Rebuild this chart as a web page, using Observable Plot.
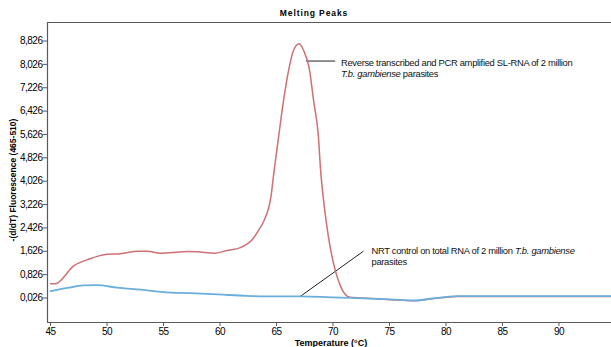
<!DOCTYPE html>
<html><head><meta charset="utf-8">
<script src="https://cdn.jsdelivr.net/npm/d3@7"></script>
<script src="https://cdn.jsdelivr.net/npm/@observablehq/plot@0.6"></script>
<style>body{margin:0;background:#fff;} svg{display:block;}</style>
</head><body><div id="chart"></div>
<script>
const title = "Melting Peaks";
const xLabel = "Temperature (°C)";
const yLabel = "-(d/dT) Fluorescence (465-510)";
const xTicks = [45, 50, 55, 60, 65, 70, 75, 80, 85, 90];
const yTicks = [0.026, 0.826, 1.626, 2.426, 3.226, 4.026, 4.826, 5.626, 6.426, 7.226, 8.026, 8.826];

// Red: reverse transcribed + PCR amplified SL-RNA
const pcrTemp  = [45.0, 45.4, 47.1, 48.5, 50.0, 51.2, 52.7, 53.6, 54.7, 55.9, 57.1, 58.0, 59.5, 60.6, 61.8, 62.8, 63.5, 63.9, 64.5, 64.8, 65.2, 65.6, 66.1, 66.5, 67.0, 67.4, 67.9, 68.3, 68.7, 68.9, 69.2, 69.6, 70.2, 70.7, 71.5, 72.5, 75.1, 77.2, 78.6, 81.0, 94.6];
const pcrValue = [0.51, 0.51, 1.14, 1.37, 1.52, 1.54, 1.63, 1.63, 1.56, 1.58, 1.62, 1.61, 1.56, 1.65, 1.75, 2.00, 2.40, 2.68, 3.48, 4.42, 5.59, 6.73, 7.88, 8.50, 8.73, 8.50, 7.88, 6.73, 5.59, 4.42, 3.25, 2.11, 0.97, 0.40, 0.05, 0.03, -0.03, -0.07, -0.01, 0.08, 0.08];

// Blue: NRT control
const nrtTemp  = [45.0, 46.5, 47.9, 49.1, 50.9, 53.0, 55.3, 57.4, 59.8, 62.4, 64.8, 67.1, 69.8, 71.5, 75.1, 77.2, 78.6, 81.0, 84.5, 94.6];
const nrtValue = [0.26, 0.37, 0.46, 0.47, 0.38, 0.31, 0.22, 0.19, 0.15, 0.10, 0.08, 0.08, 0.05, 0.03, -0.02, -0.06, 0.00, 0.09, 0.09, 0.09];

// annotation anchors (temperature, value)
const pcrLeader = [{x1: 67.6, y1: 8.14, x2: 70.2, y2: 8.14}];
const nrtLeader = [{x1: 67.1, y1: 0.08, x2: 72.7, y2: 1.63}];
const pcrNote = {t: 70.75, v: 8.09, lines: [[["Reverse transcribed and PCR amplified SL-RNA of 2 million", false]], [["T.b. gambiense", true], [" parasites", false]]]};
const nrtNote = {t: 73.45, v: 1.65, lines: [[["NRT control on total RNA of 2 million ", false], ["T.b. gambiense", true]], [["parasites", false]]]};

const xDomain = [44.73, 94.65];
const yDomain = [-0.813, 9.46];

const pcr = pcrTemp.map((t, i) => ({t, v: pcrValue[i]}));
const nrt = nrtTemp.map((t, i) => ({t, v: nrtValue[i]}));

const axisColor = "#5a5a5a";
const tickFont = "'Liberation Sans Narrow', 'Arial Narrow', 'Liberation Sans', Arial, sans-serif";
const fmtY = d => d.toFixed(3).replace(".", ",");

const plot = Plot.plot({
  width: 611, height: 347,
  marginLeft: 47, marginRight: 0, marginTop: 22, marginBottom: 25,
  style: {fontFamily: tickFont, fontSize: "10px", background: "#fff", color: "#000"},
  x: {domain: xDomain, label: null},
  y: {domain: yDomain, label: null},
  marks: [
    Plot.ruleX([xDomain[0]], {stroke: axisColor, strokeWidth: 1.2}),
    Plot.ruleY([yDomain[0]], {stroke: axisColor, strokeWidth: 1.2}),
    Plot.ruleY([yDomain[1]], {stroke: axisColor, strokeWidth: 1.2}),
    Plot.axisX({ticks: xTicks, tickSize: 4, tickPadding: 1, stroke: axisColor, tickFormat: d => String(d), label: null}),
    Plot.axisY({ticks: yTicks, tickSize: 4, tickPadding: 1, stroke: axisColor, tickFormat: fmtY, label: null}),
    Plot.link(pcrLeader, {x1: "x1", y1: "y1", x2: "x2", y2: "y2", stroke: "#222", strokeWidth: 1}),
    Plot.link(nrtLeader, {x1: "x1", y1: "y1", x2: "x2", y2: "y2", stroke: "#222", strokeWidth: 1}),
    Plot.line(pcr, {x: "t", y: "v", stroke: "#cf7072", strokeWidth: 1.5, curve: "monotone-x"}),
    Plot.line(nrt, {x: "t", y: "v", stroke: "#6aaedb", strokeWidth: 1.8, curve: "monotone-x"})
  ]
});

const svg = d3.select(plot);
svg.selectAll("[aria-label='x-axis tick label'] text, [aria-label='y-axis tick label'] text")
  .attr("letter-spacing", "-0.5px");
const sx = plot.scale("x"), sy = plot.scale("y");

function note(n) {
  const x = sx.apply(n.t), y = sy.apply(n.v);
  const txt = svg.append("text")
    .attr("text-anchor", "start")
    .attr("font-family", "'Liberation Sans', Arial, sans-serif")
    .attr("font-size", "9.4px").attr("letter-spacing", "-0.3px").attr("fill", "#111");
  n.lines.forEach((segs, i) => {
    segs.forEach((s, j) => {
      const ts = txt.append("tspan").text(s[0]).attr("font-style", s[1] ? "italic" : "normal");
      if (j === 0) ts.attr("x", x).attr("y", y + 3.5 + i * 11);
    });
  });
}
note(pcrNote);
note(nrtNote);

svg.append("text").attr("x", 314).attr("y", 16).attr("text-anchor", "middle")
  .attr("font-family", "'Liberation Sans', Arial, sans-serif").attr("font-weight", "bold")
  .attr("font-size", "8.5px").attr("letter-spacing", "0.9px").text(title);
svg.append("text").attr("x", 331).attr("y", 346).attr("text-anchor", "middle")
  .attr("font-family", "'Liberation Sans', Arial, sans-serif").attr("font-weight", "bold")
  .attr("font-size", "9px").text(xLabel);
svg.append("text").attr("transform", "translate(16,180) rotate(-90)").attr("text-anchor", "middle")
  .attr("font-family", "'Liberation Sans', Arial, sans-serif").attr("font-weight", "bold")
  .attr("font-size", "8.5px").text(yLabel);

document.getElementById("chart").appendChild(plot);
</script>
</body></html>
